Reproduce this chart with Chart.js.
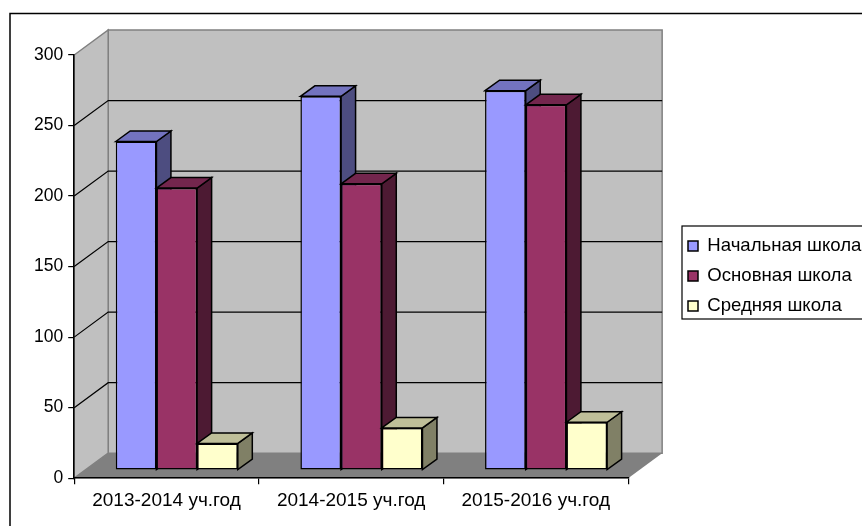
<!DOCTYPE html>
<html>
<head>
<meta charset="utf-8">
<script src="https://cdn.jsdelivr.net/npm/chart.js@4"></script>
<style>
  body { margin: 0; background: #fff; }
  canvas { display: block; }
</style>
</head>
<body>
<canvas id="myChart" width="862" height="526"></canvas>
<script>
const categories = ['2013-2014 уч.год', '2014-2015 уч.год', '2015-2016 уч.год'];
const primary = [233, 265, 269];
const basic = [200, 203, 259];
const senior = [19, 30, 34];

// depth of the plot box and of one bar, in pixels
const WALL_DX = 34, WALL_DY = 25;
const BAR_SHIFT_X = 10.25, BAR_SHIFT_Y = 8;
const BAR_DX = 14.5, BAR_DY = 10.5;

function shade(rgb, k) {
  return 'rgb(' + rgb.map(c => Math.round(c * k)).join(',') + ')';
}

function poly(ctx, pts, fill, stroke, width) {
  ctx.beginPath();
  pts.forEach((p, i) => i ? ctx.lineTo(p[0], p[1]) : ctx.moveTo(p[0], p[1]));
  ctx.closePath();
  if (fill) { ctx.fillStyle = fill; ctx.fill(); }
  if (stroke) { ctx.strokeStyle = stroke; ctx.lineWidth = width; ctx.stroke(); }
}

const wallPlugin = {
  id: 'walls',
  // back wall, side wall, floor and gridlines
  beforeDraw(chart) {
    const { ctx, chartArea: a, scales } = chart;
    const d = WALL_DX, h = WALL_DY;
    ctx.save();
    poly(ctx, [[a.left + d, a.top - h], [a.right + d, a.top - h], [a.right + d, a.bottom - h], [a.left + d, a.bottom - h]], '#c0c0c0', '#808080', 1.5);
    poly(ctx, [[a.left, a.top], [a.left + d, a.top - h], [a.left + d, a.bottom - h], [a.left, a.bottom]], '#c0c0c0', '#808080', 1.5);
    poly(ctx, [[a.left, a.bottom], [a.left + d, a.bottom - h], [a.right + d, a.bottom - h], [a.right, a.bottom]], '#808080', null);
    ctx.strokeStyle = '#000';
    ctx.lineWidth = 1.2;
    scales.y.ticks.forEach(t => {
      if (t.value === 0 || t.value === 300) return;
      const y = scales.y.getPixelForValue(t.value);
      ctx.beginPath();
      ctx.moveTo(a.left, y);
      ctx.lineTo(a.left + d, y - h);
      ctx.lineTo(a.right + d, y - h);
      ctx.stroke();
    });
    // chart frame, open on the right and bottom, and legend box
    ctx.strokeStyle = '#000';
    ctx.lineWidth = 1.5;
    ctx.beginPath();
    ctx.moveTo(10, 526);
    ctx.lineTo(10, 13.5);
    ctx.lineTo(862, 13.5);
    ctx.stroke();
    ctx.lineWidth = 1.2;
    ctx.strokeRect(682, 226, 190, 93);
    ctx.restore();
  },
  afterLayout(chart) {
    const l = chart.legend;
    l.left = 676.6; l.right = l.left + l.width;
    l.top = 225.2; l.bottom = l.top + l.height;
  },
  // left series first, so each bar covers the side face of the one before it
  beforeDatasetsDraw(chart) {
    const { ctx } = chart;
    ctx.save();
    ctx.translate(BAR_SHIFT_X, -BAR_SHIFT_Y);
    chart.data.datasets.forEach((ds, i) => {
      const meta = chart.getDatasetMeta(i);
      meta.data.forEach(bar => {
        const { x, y, base, width } = bar.getProps(['x', 'y', 'base', 'width']);
        const r = x + width / 2, l = x - width / 2;
        poly(ctx, [[r, y], [r + BAR_DX, y - BAR_DY], [r + BAR_DX, base - BAR_DY], [r, base]], shade(ds.faceRgb, 0.5), '#000', 1.5);
        poly(ctx, [[l, y], [l + BAR_DX, y - BAR_DY], [r + BAR_DX, y - BAR_DY], [r, y]], shade(ds.faceRgb, 0.75), '#000', 1.5);
      });
      meta.controller.draw();
    });
    ctx.restore();
    return false;
  }
};

function series(label, data, rgb) {
  return {
    label, data, faceRgb: rgb,
    backgroundColor: 'rgb(' + rgb.join(',') + ')',
    borderColor: '#000',
    borderWidth: 1.5,
    borderSkipped: false
  };
}

new Chart(document.getElementById('myChart'), {
  type: 'bar',
  data: {
    labels: categories,
    datasets: [
      series('Начальная школа', primary, [153, 153, 255]),
      series('Основная школа', basic, [153, 51, 102]),
      series('Средняя школа', senior, [255, 255, 204])
    ]
  },
  options: {
    responsive: false,
    animation: false,
    layout: { padding: { left: 29, right: 39, top: 55, bottom: 9 } },
    datasets: { bar: { categoryPercentage: 0.661, barPercentage: 1 } },
    plugins: {
      tooltip: { enabled: false },
      legend: {
        position: 'right',
        align: 'start',
        labels: {
          color: '#000',
          font: { family: 'Liberation Sans', size: 18.6 },
          boxWidth: 10,
          boxHeight: 10,
          padding: 11.4
        }
      }
    },
    scales: {
      x: {
        grid: { drawOnChartArea: false, color: '#000', tickLength: 6, lineWidth: 1.2 },
        border: { color: '#000', width: 1.5 },
        ticks: { color: '#000', font: { family: 'Liberation Sans', size: 19 }, padding: 5, maxRotation: 0 }
      },
      y: {
        min: 0,
        max: 300,
        grid: { drawOnChartArea: false, color: '#000', tickLength: 6, lineWidth: 1.2 },
        border: { color: '#000', width: 1.5 },
        ticks: { color: '#000', stepSize: 50, font: { family: 'Liberation Sans', size: 17.5 }, padding: 5 }
      }
    }
  },
  plugins: [wallPlugin]
});
</script>
</body>
</html>
